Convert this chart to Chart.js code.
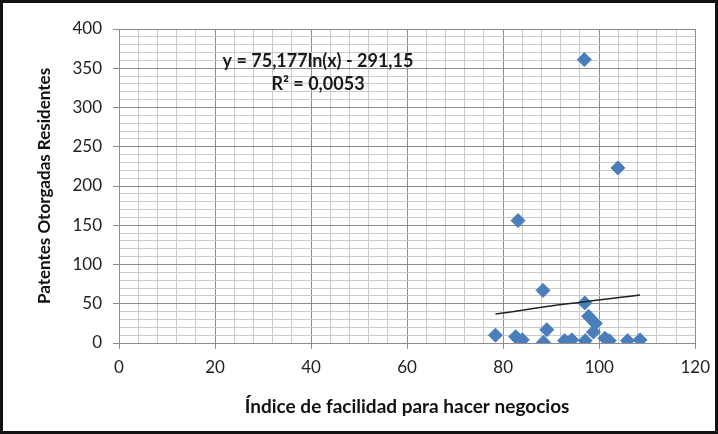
<!DOCTYPE html>
<html>
<head>
<meta charset="utf-8">
<script src="https://cdn.jsdelivr.net/npm/chart.js@4/dist/chart.umd.min.js"></script>
<style>
  body { margin: 0; background: #fff; }
  #wrap { width: 718px; height: 434px; }
</style>
</head>
<body>
<div id="wrap"><canvas id="chart" width="718" height="434"></canvas></div>
<script>
// Datos
const indiceFacilidad = [96.9, 103.9, 83.1, 88.3, 97.0, 78.4, 82.6, 84.0, 89.1, 88.4, 92.8, 94.3, 97.1, 97.8, 99.2, 98.8, 101.2, 102.1, 105.9, 108.5];
const patentes = [361, 223, 156, 67, 51, 10, 8, 4, 17, 1, 3, 4, 3, 34, 25, 14, 6, 3, 3, 4];

// Línea de tendencia
const tendenciaX = [78.4, 93.4, 108.5];
const tendenciaY = [36.8, 49.9, 61.2];

const ecuacion = ['y = 75,177ln(x) - 291,15', 'R² = 0,0053'];

const FONT = 'Lato, Carlito, Calibri, sans-serif';
const gridMajor = '#8c8c8c';
const gridMinor = '#cacaca';

// Borde exterior y fondo
const marco = {
    id: 'marco',
    beforeDraw(chart) {
        const c = chart.ctx;
        c.save();
        c.fillStyle = '#fff';
        c.fillRect(0, 0, chart.width, chart.height);
        c.restore();
    },
    afterDraw(chart) {
        const c = chart.ctx;
        c.save();
        c.strokeStyle = '#111';
        c.lineWidth = 3;
        c.strokeRect(1.5, 1.5, chart.width - 3, chart.height - 3);
        c.restore();
    }
};

// Texto de la ecuación
const etiquetaEcuacion = {
    id: 'etiquetaEcuacion',
    afterDatasetsDraw(chart) {
        const c = chart.ctx;
        c.save();
        c.font = 'bold 18px ' + FONT;
        c.fillStyle = '#1a1a1a';
        c.textAlign = 'center';
        c.textBaseline = 'middle';
        c.fillText(ecuacion[0], 318, 61);
        c.fillText(ecuacion[1], 318, 84);
        c.restore();
    }
};

new Chart(document.getElementById('chart'), {
    type: 'scatter',
    data: {
        datasets: [
            {
                label: 'Patentes',
                data: indiceFacilidad.map((x, i) => ({ x: x, y: patentes[i] })),
                pointStyle: 'rectRot',
                pointRadius: 7,
                backgroundColor: '#4a7ebb',
                borderColor: '#4a7ebb',
                borderWidth: 1,
                order: 2
            },
            {
                label: 'Tendencia',
                type: 'line',
                data: tendenciaX.map((x, i) => ({ x: x, y: tendenciaY[i] })),
                borderColor: '#222',
                borderWidth: 1.5,
                pointRadius: 0,
                fill: false,
                tension: 0.4,
                order: 1
            }
        ]
    },
    options: {
        responsive: false,
        animation: false,
        layout: { padding: { left: 0, right: 21, top: 29, bottom: 0 } },
        plugins: {
            legend: { display: false },
            tooltip: { enabled: false }
        },
        scales: {
            x: {
                type: 'linear',
                min: 0,
                max: 120,
                afterFit(scale) { scale.height = 91; },
                ticks: {
                    stepSize: 4,
                    autoSkip: false,
                    maxRotation: 0,
                    padding: 8,
                    color: '#222',
                    font: { family: FONT, size: 17 },
                    callback: v => (v % 20 === 0 ? v : '')
                },
                grid: {
                    color: ctx => (ctx.tick && ctx.tick.value % 20 === 0 ? gridMajor : gridMinor),
                    tickColor: ctx => (ctx.tick && ctx.tick.value % 20 === 0 ? gridMajor : 'rgba(0,0,0,0)'),
                    tickLength: 6,
                    lineWidth: 1
                },
                border: { color: gridMajor, width: 1 },
                title: {
                    display: true,
                    text: 'Índice de facilidad para hacer negocios',
                    color: '#111',
                    font: { family: FONT, size: 19, weight: 'bold' },
                    padding: { top: 0, bottom: 16 }
                }
            },
            y: {
                min: 0,
                max: 400,
                afterFit(scale) { scale.width = 119; },
                ticks: {
                    stepSize: 10,
                    autoSkip: false,
                    padding: 11,
                    color: '#222',
                    font: { family: FONT, size: 17 },
                    callback: v => (v % 50 === 0 ? v : '')
                },
                grid: {
                    color: ctx => (ctx.tick && ctx.tick.value % 50 === 0 ? gridMajor : gridMinor),
                    tickColor: ctx => (ctx.tick && ctx.tick.value % 50 === 0 ? gridMajor : 'rgba(0,0,0,0)'),
                    tickLength: 6,
                    lineWidth: 1
                },
                border: { color: gridMajor, width: 1 },
                title: {
                    display: true,
                    text: 'Patentes Otorgadas Residentes',
                    color: '#111',
                    font: { family: FONT, size: 17, weight: 'bold' },
                    padding: { top: 34, bottom: 0 }
                }
            }
        }
    },
    plugins: [marco, etiquetaEcuacion]
});
</script>
</body>
</html>
